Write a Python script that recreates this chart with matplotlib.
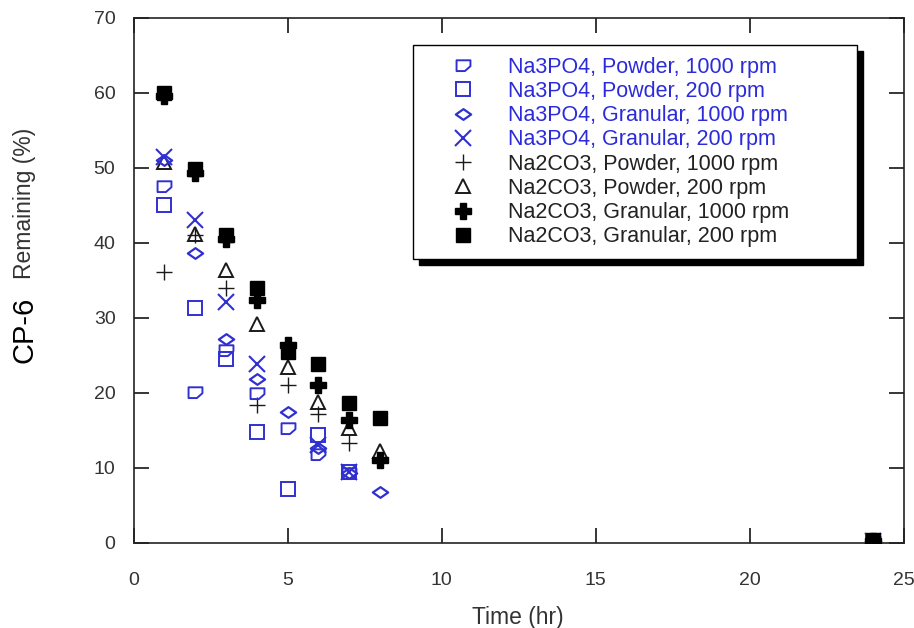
import numpy as np
import matplotlib
matplotlib.use('Agg')
import matplotlib.pyplot as plt
from matplotlib.path import Path
from matplotlib.patches import Rectangle

plt.rcParams['font.family'] = ['Liberation Sans', 'DejaVu Sans']

# data (time in hr, CP-6 remaining in %)
t_p1000 = [1, 2, 3, 4, 5, 6, 7, 24]
na3po4_powder_1000 = [47.6, 20.1, 25.7, 20.0, 15.3, 11.8, 9.3, 0.3]
t_p200 = [1, 2, 3, 4, 5, 6, 7, 24]
na3po4_powder_200 = [45.1, 31.3, 24.5, 14.8, 7.2, 14.4, 9.5, 0.3]
t_g1000 = [1, 2, 3, 4, 5, 6, 7, 8, 24]
na3po4_gran_1000 = [51.0, 38.7, 27.2, 21.8, 17.5, 12.7, 9.3, 6.8, 0.3]
t_g200 = [1, 2, 3, 4, 6, 7, 24]
na3po4_gran_200 = [51.5, 43.0, 32.1, 23.8, 13.0, 9.5, 0.3]

t_c_p1000 = [1, 2, 3, 4, 5, 6, 7, 24]
na2co3_powder_1000 = [36.1, 41.0, 34.0, 18.4, 21.0, 17.2, 13.3, 0.3]
t_c_p200 = [1, 2, 3, 4, 5, 6, 7, 8, 24]
na2co3_powder_200 = [50.8, 41.2, 36.4, 29.2, 23.4, 18.8, 15.3, 12.3, 0.3]
t_c_g1000 = [1, 2, 3, 4, 5, 6, 7, 8, 24]
na2co3_gran_1000 = [59.6, 49.3, 40.5, 32.4, 26.4, 21.1, 16.4, 11.1, 0.3]
t_c_g200 = [1, 2, 3, 4, 5, 6, 7, 8, 24]
na2co3_gran_200 = [60.0, 49.8, 41.0, 34.0, 25.4, 23.9, 18.6, 16.6, 0.4]

labels = ['Na3PO4, Powder, 1000 rpm', 'Na3PO4, Powder, 200 rpm',
          'Na3PO4, Granular, 1000 rpm', 'Na3PO4, Granular, 200 rpm',
          'Na2CO3, Powder, 1000 rpm', 'Na2CO3, Powder, 200 rpm',
          'Na2CO3, Granular, 1000 rpm', 'Na2CO3, Granular, 200 rpm']

blue = '#3030d0'
txt_blue = '#2b2bdc'
dark = '#1a1a1a'

# custom marker shapes
shield = Path([(-1, 0.75), (1, 0.75), (1, -0.1), (0.2, -0.8), (-1, -0.8), (-1, 0.75)],
              [Path.MOVETO, Path.LINETO, Path.LINETO, Path.LINETO, Path.LINETO, Path.CLOSEPOLY])
flat_diamond = Path([(-1, 0), (0, 0.7), (1, 0), (0, -0.7), (-1, 0)],
                    [Path.MOVETO, Path.LINETO, Path.LINETO, Path.LINETO, Path.CLOSEPOLY])

fig = plt.figure(figsize=(9.14, 6.28), dpi=100)
ax = fig.add_axes([0.1461, 0.1354, 0.8425, 0.836])

series = [
    (t_p1000, na3po4_powder_1000, dict(marker=shield, ms=10, mfc='none', mec=blue, mew=1.4), 3),
    (t_p200, na3po4_powder_200, dict(marker='s', ms=10, mfc='none', mec=blue, mew=1.4), 3),
    (t_g1000, na3po4_gran_1000, dict(marker=flat_diamond, ms=11, mfc='none', mec=blue, mew=1.6), 3),
    (t_g200, na3po4_gran_200, dict(marker='x', ms=11, mfc='none', mec=blue, mew=1.5), 3),
    (t_c_p1000, na2co3_powder_1000, dict(marker='+', ms=12, mec=dark, mew=1.0), 2),
    (t_c_p200, na2co3_powder_200, dict(marker='^', ms=10, mfc='none', mec=dark, mew=1.4), 2),
    (t_c_g1000, na2co3_gran_1000, dict(marker='P', ms=11, mfc='k', mec='k', mew=1), 4),
    (t_c_g200, na2co3_gran_200, dict(marker='s', ms=10, mfc='k', mec='k', mew=1), 5),
]
for (tx, vals, st, z), lab in zip(series, labels):
    ax.plot(tx, vals, ls='none', label=lab, zorder=z, **st)

ax.set_xlim(0, 25)
ax.set_ylim(0, 70)
ax.set_xticks(np.arange(0, 26, 5))
ax.set_yticks(np.arange(0, 71, 10))
ax.tick_params(direction='in', length=11, width=1.1, top=True, right=True,
               labelsize=14, labelcolor='#333333')
ax.tick_params(axis='x', pad=21)
ax.tick_params(axis='y', pad=13)
for sp in ax.spines.values():
    sp.set_linewidth(1.2)
    sp.set_color('#222222')

fig.text(25 / 914, 1 - 330 / 628, 'CP-6', rotation=90, fontsize=21, ha='center', va='center')
fig.text(25 / 914, 1 - 203 / 628, 'Remaining (%)', rotation=90, fontsize=16.5,
         ha='center', va='center', color='#333333')
fig.text(518 / 914, 1 - 606 / 628, 'Time (hr)', fontsize=16.5, ha='center', va='top',
         color='#333333')

leg = ax.legend(loc='upper left', bbox_to_anchor=(0.363, 0.543, 0.5766, 0.4057),
                mode='expand', borderaxespad=0, fontsize=15.5, handlelength=3.5,
                handletextpad=0.37, borderpad=0.55, labelspacing=0.15, fancybox=False,
                framealpha=1, edgecolor='k')
leg.get_frame().set_linewidth(1.0)
leg.set_zorder(10)
for i, txt in enumerate(leg.get_texts()):
    txt.set_color(txt_blue if i < 4 else '#222222')

# thick black drop shadow behind the legend box
fig.canvas.draw()
bb = leg.get_window_extent()
ax.add_patch(Rectangle((bb.x0 + 6, bb.y0 - 6), bb.width, bb.height, transform=None,
                       facecolor='k', edgecolor='k', zorder=9, clip_on=False))

fig.savefig('out.png', dpi=100)
